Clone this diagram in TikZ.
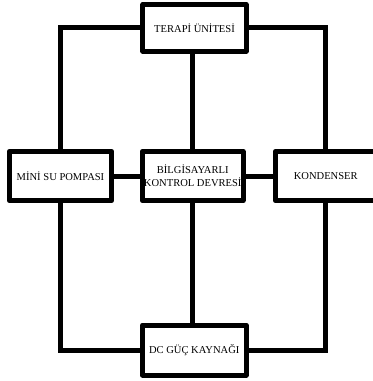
\documentclass[tikz,border=0pt]{standalone}
\usepackage{fontspec}
\setmainfont{Liberation Serif}
\usetikzlibrary{positioning}
\tikzset{x=0.03cm, y=-0.03cm, % One unit is one pixel of the layout, y runs down
      unit/.style={ % Sets the properties for each block
      draw,
      line width=0.15cm,
      line join=round,
      fill=white,
      align=center,
      inner sep=1pt,
      font=\fontsize{9}{11}\selectfont},
      link/.style={ % Sets the properties for each connection
      draw,
      line width=0.15cm}}

\begin{document}
\begin{tikzpicture}
      \useasboundingbox (0,0) rectangle (373,381);
      \node[unit, minimum width=3.09cm, minimum height=1.395cm] (terapi) at (194.5,27.75) {TERAPİ ÜNİTESİ};
      \node[unit, minimum width=3.06cm, minimum height=1.485cm] (pompa) at (60.5,176) {MİNİ SU POMPASI};
      \node[unit, minimum width=3.015cm, minimum height=1.485cm] (kontrol) at (192.75,176) {BİLGİSAYARLI\\KONTROL DEVRESİ};
      \node[unit, minimum width=3.015cm, minimum height=1.485cm] (kondenser) at (325.75,176) {KONDENSER};
      \node[unit, minimum width=3.105cm, minimum height=1.5cm] (guc) at (194.25,350) {DC GÜÇ KAYNAĞI};
      \draw[link] (terapi.west) -| (pompa.north);
      \draw[link] (terapi.east) -| (kondenser.north);
      \draw[link] (kontrol.north) -- (kontrol.north |- terapi.south);
      \draw[link] (pompa) -- (kontrol);
      \draw[link] (kontrol) -- (kondenser);
      \draw[link] (kontrol.south) -- (kontrol.south |- guc.north);
      \draw[link] (pompa.south) |- (guc.west);
      \draw[link] (kondenser.south) |- (guc.east);
\end{tikzpicture}
\end{document}
